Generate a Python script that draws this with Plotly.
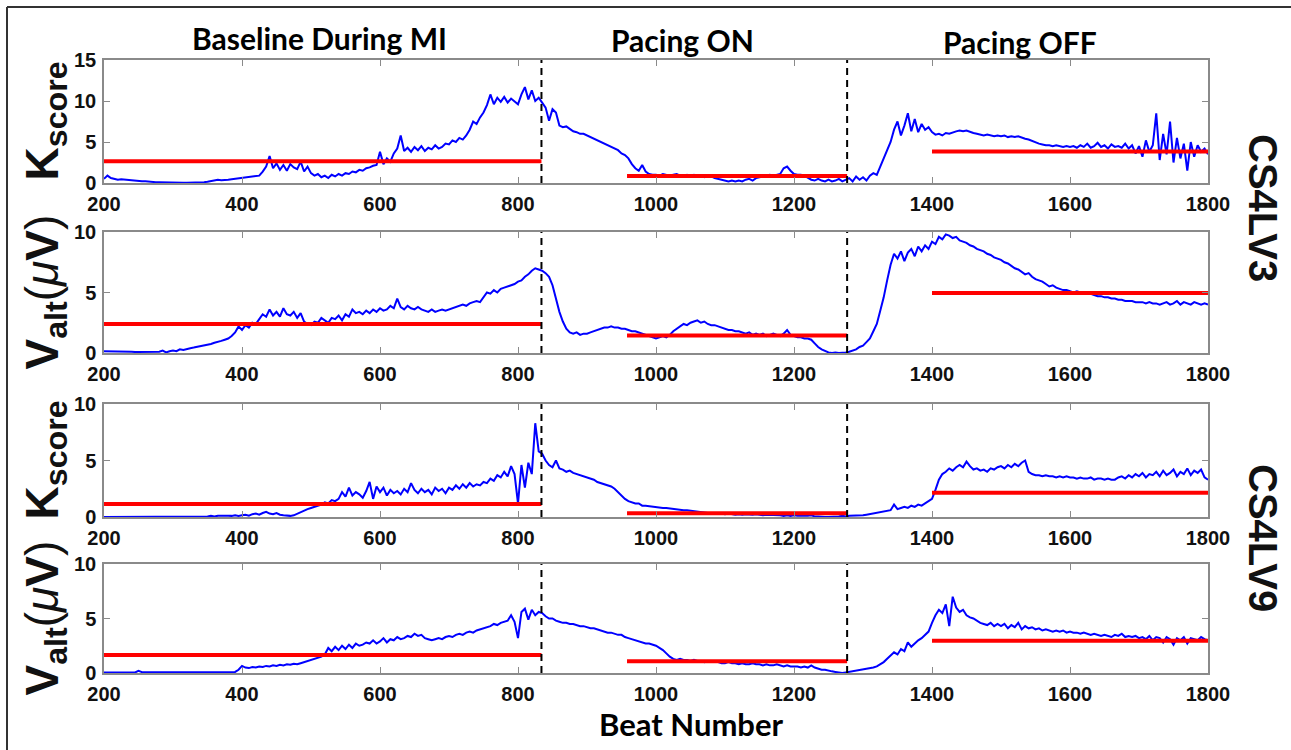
import plotly.graph_objects as go

# ---------------- data ----------------
beat_start, beat_end, beat_step = 200, 1800, 5
beats = list(range(beat_start, beat_end + 1, beat_step))

pacing_on_beat = 834
pacing_off_beat = 1277
phase_bounds = [pacing_on_beat, pacing_off_beat]

# spans of the red mean lines (beat ranges)
red_spans = [(200, 834), (958, 1277), (1400, 1800)]

# CS4LV3 K-score
k1 = [
    0.5, 0.9, 0.6, 0.5, 0.4, 0.45, 0.4, 0.35, 0.3, 0.3, 0.25, 0.2, 0.2, 0.15, 0.15, 0.1, 0.1, 0.08, 0.05, 0.05,
    0.03, 0.02, 0.02, 0.02, 0.03, 0.03, 0.05, 0.05, 0.08, 0.1, 0.15, 0.25, 0.35, 0.4, 0.35, 0.35, 0.4, 0.45, 0.5, 0.55,
    0.6, 0.65, 0.7, 0.75, 0.8, 0.9, 1.4, 2.0, 3.3, 1.8, 2.4, 1.6, 2.2, 1.5, 2.3, 1.9, 1.7, 2.6, 1.4, 2.0,
    1.2, 0.9, 1.1, 0.7, 0.9, 0.6, 1.0, 0.8, 1.1, 0.9, 1.2, 1.1, 1.4, 1.3, 1.6, 1.5, 1.8, 1.9, 2.1, 2.2,
    3.8, 2.3, 3.0, 2.6, 3.6, 4.2, 5.8, 3.9, 4.3, 3.8, 4.4, 4.0, 4.5, 3.9, 4.3, 4.1, 4.6, 4.2, 4.4, 4.8,
    4.7, 5.2, 5.0, 5.5, 5.3, 5.8, 6.5, 7.5, 7.2, 8.0, 8.6, 9.5, 10.8, 9.6, 10.4, 9.9, 10.5, 9.8, 10.3, 10.0,
    9.6, 10.8, 11.7, 10.2, 11.3, 10.0, 10.4, 9.8, 9.2, 7.6, 9.0, 8.6, 7.0, 6.8, 6.9, 6.6, 6.3, 6.2, 6.0, 6.0,
    5.8, 5.6, 5.4, 5.3, 5.0, 4.8, 4.6, 4.4, 4.2, 4.0, 3.6, 3.4, 3.0, 2.3, 1.8, 1.5, 2.2, 1.4, 1.1, 1.0,
    1.0, 0.9, 1.1, 1.0, 0.9, 1.0, 1.1, 0.9, 0.8, 1.0, 0.9, 1.0, 0.8, 0.9, 0.7, 0.9, 0.8, 0.6, 0.5, 0.4,
    0.3, 0.2, 0.3, 0.2, 0.3, 0.2, 0.4, 0.5, 0.3, 0.6, 0.7, 0.8, 0.9, 1.0, 0.9, 1.0, 1.1, 1.8, 2.0, 1.5,
    1.1, 1.0, 1.0, 0.9, 0.6, 0.4, 0.3, 0.5, 0.3, 0.2, 0.4, 0.2, 0.3, 0.5, 0.2, 0.4, 0.6, 0.2, 0.8, 0.4,
    0.7, 0.3, 0.9, 1.2, 1.0, 2.0, 3.0, 4.2, 5.0, 6.5, 7.5, 5.8, 7.0, 8.5, 6.3, 7.8, 6.2, 7.2, 6.5, 6.8,
    6.2, 5.9, 6.0, 5.8, 6.1, 6.0, 6.2, 6.3, 6.4, 6.3, 6.4, 6.2, 6.1, 6.0, 5.9, 5.8, 5.9, 5.8, 5.7, 5.8,
    5.7, 5.8, 5.6, 5.7, 5.6, 5.7, 5.5, 5.4, 5.3, 5.1, 4.9, 4.8, 4.7, 4.6, 4.6, 4.5, 4.6, 4.5, 4.4, 4.5,
    4.4, 4.5, 4.3, 4.6, 4.4, 4.8, 4.3, 4.5, 4.9, 4.4, 4.6, 4.2, 4.7, 4.4, 4.5, 4.3, 4.8, 4.2, 4.6, 3.6,
    4.5, 3.2, 5.2, 3.8, 4.6, 8.5, 2.8, 6.0, 3.5, 7.5, 2.5, 5.5, 3.0, 4.8, 1.5, 5.0, 3.2, 4.6, 3.8, 4.2,
    3.5,
]

# CS4LV3 V_alt (uV)
v1 = [
    0.15, 0.15, 0.14, 0.13, 0.12, 0.12, 0.1, 0.1, 0.1, 0.08, 0.08, 0.07, 0.06, 0.05, 0.05, 0.05, 0.1, 0.2, 0.05, 0.15,
    0.2, 0.15, 0.3, 0.25, 0.35, 0.4, 0.45, 0.5, 0.55, 0.6, 0.7, 0.75, 0.85, 0.9, 1.0, 1.1, 1.2, 1.4, 1.7, 2.2,
    1.9, 2.3, 2.1, 2.5, 2.4, 2.8, 3.2, 3.0, 3.6, 3.1, 3.4, 3.0, 3.7, 3.2, 3.1, 3.4, 2.9, 3.3, 2.6, 2.4,
    2.3, 2.6, 2.5, 2.9, 2.7, 2.5, 2.9, 2.8, 3.1, 2.7, 3.2, 3.0, 3.6, 3.3, 3.4, 3.2, 3.5, 3.3, 3.6, 3.4,
    3.7, 3.5, 3.6, 3.9, 3.7, 4.5, 3.8, 3.6, 3.9, 3.7, 3.6, 3.8, 3.6, 3.5, 3.4, 3.6, 3.4, 3.5, 3.6, 3.5,
    3.6, 3.7, 3.8, 3.9, 4.0, 3.9, 4.1, 4.2, 4.3, 4.2, 4.6, 5.0, 4.9, 5.2, 5.0, 5.3, 5.4, 5.5, 5.6, 5.7,
    5.9, 6.0, 6.3, 6.5, 6.8, 7.0, 6.9, 6.8, 6.6, 6.3, 5.6, 4.4, 3.4, 2.6, 2.0, 1.7, 1.6, 1.7, 1.5, 1.6,
    1.6, 1.7, 1.8, 1.9, 2.0, 2.1, 2.1, 2.2, 2.1, 2.1, 2.0, 2.0, 1.9, 1.8, 1.8, 1.7, 1.6, 1.5, 1.4, 1.3,
    1.2, 1.3, 1.4, 1.3, 1.5, 1.8, 2.0, 2.2, 2.4, 2.3, 2.5, 2.6, 2.7, 2.5, 2.6, 2.4, 2.3, 2.3, 2.2, 2.1,
    2.0, 1.9, 1.9, 1.8, 1.8, 1.7, 1.6, 1.7, 1.5, 1.6, 1.5, 1.6, 1.4, 1.5, 1.6, 1.5, 1.4, 1.6, 1.9, 1.5,
    1.4, 1.3, 1.3, 1.2, 1.2, 1.1, 0.8, 0.5, 0.3, 0.15, 0.05, 0.0, 0.05, 0.0, 0.0, 0.05, 0.1, 0.2, 0.3, 0.5,
    0.6, 0.9, 1.2, 1.8, 2.4, 3.5, 4.6, 6.0, 7.3, 8.2, 7.8, 8.4, 7.6, 8.3, 8.6, 8.0, 8.8, 8.4, 8.9, 8.6,
    9.2, 9.0, 9.6, 9.4, 9.8, 9.7, 9.5, 9.6, 9.3, 9.2, 9.1, 8.9, 8.8, 8.6, 8.5, 8.4, 8.2, 8.1, 7.9, 7.8,
    7.7, 7.5, 7.4, 7.2, 7.0, 6.9, 6.7, 6.5, 6.6, 6.3, 6.1, 6.0, 5.9, 5.7, 5.5, 5.6, 5.4, 5.3, 5.2, 5.2,
    5.1, 5.0, 5.1, 5.0, 5.0, 4.9, 4.9, 4.8, 4.7, 4.7, 4.6, 4.6, 4.5, 4.5, 4.4, 4.4, 4.3, 4.3, 4.3, 4.2,
    4.2, 4.2, 4.1, 4.2, 4.1, 4.1, 4.0, 4.1, 4.2, 4.0, 4.1, 4.3, 4.0, 4.2, 4.1, 4.0, 4.2, 4.1, 4.0, 4.1,
    4.0,
]

# CS4LV9 K-score
k2 = [
    0.0, 0.0, 0.0, 0.0, 0.0, 0.0, 0.0, 0.0, 0.0, 0.0, 0.0, 0.0, 0.0, 0.0, 0.0, 0.0, 0.0, 0.0, 0.0, 0.0,
    0.0, 0.0, 0.0, 0.0, 0.0, 0.0, 0.0, 0.0, 0.0, 0.0, 0.05, 0.1, 0.05, 0.1, 0.08, 0.1, 0.12, 0.1, 0.15, 0.1,
    0.15, 0.2, 0.12, 0.25, 0.3, 0.2, 0.35, 0.45, 0.3, 0.25, 0.35, 0.2, 0.15, 0.1, 0.1, 0.15, 0.3, 0.4, 0.55, 0.7,
    0.8, 0.9, 1.0, 1.1, 1.3, 1.2, 1.5, 1.4, 1.6, 2.2, 1.8, 2.6, 1.9, 2.2, 2.0, 1.7, 2.3, 3.1, 1.6, 2.7,
    2.2, 2.6, 1.9, 2.4, 2.1, 2.3, 2.0, 2.5, 2.2, 3.0, 2.4, 2.1, 2.5, 2.2, 2.4, 2.0, 2.6, 2.3, 2.5, 2.1,
    2.6, 2.4, 2.8, 2.5, 2.9, 2.6, 3.0, 2.7, 2.9, 2.8, 3.1, 3.0, 3.4, 3.2, 3.7, 3.5, 4.0, 3.6, 4.5, 3.8,
    1.2, 4.6, 2.6, 4.8, 3.8, 8.3, 5.8, 5.6, 5.0, 4.6, 4.4, 5.0, 4.3, 4.2, 4.0, 4.1, 3.9, 3.8, 3.7, 3.6,
    3.5, 3.4, 3.3, 3.1, 3.0, 2.9, 2.8, 2.7, 2.5, 2.2, 1.9, 1.6, 1.4, 1.3, 1.2, 1.2, 1.0, 1.0, 0.95, 0.9,
    0.9, 0.85, 0.8, 0.8, 0.75, 0.7, 0.7, 0.65, 0.6, 0.6, 0.55, 0.5, 0.45, 0.4, 0.4, 0.35, 0.35, 0.3, 0.3, 0.3,
    0.25, 0.3, 0.25, 0.2, 0.25, 0.2, 0.25, 0.2, 0.2, 0.25, 0.2, 0.15, 0.2, 0.2, 0.15, 0.2, 0.15, 0.1, 0.15, 0.1,
    0.15, 0.1, 0.1, 0.05, 0.1, 0.15, 0.05, 0.05, 0.0, 0.0, 0.0, 0.0, 0.0, 0.05, 0.1, 0.05, 0.1, 0.1, 0.15, 0.1,
    0.15, 0.2, 0.25, 0.3, 0.35, 0.4, 0.5, 0.5, 0.6, 1.1, 0.7, 0.8, 0.9, 0.8, 1.0, 0.9, 1.1, 1.0, 1.2, 1.4,
    1.6, 2.4, 3.3, 3.8, 4.0, 4.3, 4.1, 4.4, 4.6, 4.4, 4.9, 4.5, 4.2, 4.3, 4.1, 4.2, 4.0, 4.3, 4.2, 4.4,
    4.5, 4.3, 4.6, 4.4, 4.7, 4.5, 4.8, 5.0, 4.0, 3.8, 3.7, 3.7, 3.6, 3.7, 3.6, 3.6, 3.5, 3.6, 3.5, 3.6,
    3.5, 3.5, 3.4, 3.5, 3.4, 3.4, 3.5, 3.3, 3.4, 3.4, 3.3, 3.4, 3.3, 3.3, 3.5, 3.6, 3.4, 3.7, 3.5, 3.8,
    3.6, 3.9, 3.5, 3.8, 3.7, 4.0, 3.6, 4.1, 3.7, 3.9, 4.2, 3.6, 4.0, 3.8, 4.3, 3.7, 4.1, 3.9, 4.2, 3.5,
    3.3,
]

# CS4LV9 V_alt (uV)
v2 = [
    0.05, 0.05, 0.05, 0.05, 0.05, 0.05, 0.05, 0.05, 0.05, 0.05, 0.2, 0.08, 0.06, 0.08, 0.1, 0.08, 0.08, 0.06, 0.06, 0.06,
    0.05, 0.05, 0.05, 0.05, 0.04, 0.04, 0.04, 0.04, 0.04, 0.04, 0.04, 0.04, 0.04, 0.05, 0.05, 0.05, 0.06, 0.08, 0.1, 0.3,
    0.65, 0.5, 0.45, 0.55, 0.5, 0.6, 0.55, 0.65, 0.6, 0.7, 0.65, 0.75, 0.7, 0.8, 0.75, 0.85, 0.8, 0.9, 1.0, 1.1,
    1.2, 1.3, 1.4, 1.5, 1.7, 2.3, 2.0, 2.4, 2.1, 2.5, 2.2, 2.6, 2.3, 2.7, 2.5, 2.6, 2.8, 2.7, 3.0, 2.7,
    2.9, 3.2, 2.8, 3.1, 3.0, 3.3, 3.1, 3.2, 3.4, 3.3, 3.6, 3.4, 3.5, 3.2, 3.1, 3.0, 3.1, 3.2, 3.1, 3.3,
    3.4, 3.3, 3.5, 3.6, 3.5, 3.7, 3.8, 3.7, 3.9, 4.0, 4.1, 4.2, 4.3, 4.5, 4.4, 4.6, 4.7, 4.8, 5.3, 4.7,
    3.2, 5.6, 5.9, 4.9, 5.8, 5.3, 5.6, 5.5, 5.2, 5.0, 5.0, 4.8, 4.7, 4.6, 4.6, 4.5, 4.5, 4.4, 4.3, 4.3,
    4.2, 4.1, 4.1, 4.0, 3.9, 3.8, 3.7, 3.7, 3.6, 3.5, 3.5, 3.3, 3.2, 3.1, 3.0, 2.9, 2.8, 2.7, 2.7, 2.6,
    2.5, 2.3, 2.1, 1.8, 1.5, 1.3, 1.2, 1.3, 1.2, 1.2, 1.1, 1.2, 1.1, 1.1, 1.0, 1.1, 1.0, 1.0, 1.0, 0.9,
    0.9, 1.0, 0.9, 0.9, 0.8, 0.9, 0.8, 0.8, 0.9, 0.8, 0.8, 0.7, 0.8, 0.7, 0.7, 0.8, 0.7, 0.6, 0.7, 0.6,
    0.6, 0.6, 0.5, 0.6, 0.5, 0.7, 0.5, 0.4, 0.3, 0.3, 0.2, 0.15, 0.1, 0.05, 0.0, 0.05, 0.1, 0.15, 0.2, 0.25,
    0.3, 0.35, 0.4, 0.5, 0.6, 0.8, 1.0, 1.3, 1.6, 1.9, 1.7, 2.2, 2.0, 2.8, 2.4, 2.7, 3.0, 3.2, 3.5, 3.8,
    4.6, 5.3, 5.8, 5.5, 6.3, 4.3, 7.0, 6.0, 5.6, 5.8, 5.3, 5.1, 5.0, 4.8, 4.6, 4.5, 4.4, 4.6, 4.3, 4.5,
    4.3, 4.5, 4.1, 4.4, 4.2, 4.6, 4.0, 4.3, 4.1, 4.2, 4.0, 4.1, 3.9, 4.0, 3.9, 3.8, 3.9, 3.8, 3.9, 3.7,
    3.8, 3.7, 3.7, 3.6, 3.7, 3.6, 3.5, 3.6, 3.5, 3.4, 3.5, 3.4, 3.3, 3.5, 3.4, 3.6, 3.3, 3.4, 3.3, 3.4,
    3.2, 3.3, 3.1, 3.4, 3.0, 3.3, 3.2, 2.8, 3.3, 3.1, 2.6, 3.2, 3.0, 3.3, 2.7, 3.2, 3.1, 3.0, 3.3, 3.1,
    3.0,
]

# mean levels (red lines) per phase
k1_means = [2.65, 0.85, 3.85]
v1_means = [2.4, 1.45, 4.95]
k2_means = [1.15, 0.33, 2.15]
v2_means = [1.65, 1.07, 2.95]

y_max = [15, 10, 10, 10]
y_ticks = [[0, 5, 10, 15], [0, 5, 10], [0, 5, 10], [0, 5, 10]]
x_ticks = [200, 400, 600, 800, 1000, 1200, 1400, 1600, 1800]

phase_titles = ["Baseline During MI", "Pacing ON", "Pacing OFF"]
x_title = "Beat Number"
k_label = "<b>K<sub>score</sub></b>"
v_label = "<b>V<sub>alt</sub></b>(<i>μ</i><b>V</b>)"
row_labels = [k_label, v_label, k_label, v_label]
lead_labels = ["CS4LV3", "CS4LV9"]

for s in (k1, v1, k2, v2):
    assert len(s) == len(beats), len(s)

# ---------------- layout geometry (pixels) ----------------
W, H = 1291, 750
x_left, x_right = 104, 1208
panel_px = [(60, 183), (232, 353), (404, 517), (564, 673)]  # top, bottom


def fx(p):
    return p / W


def fy(p):
    return 1 - p / H


tick_font = dict(family="Liberation Sans Narrow, Liberation Sans, Arial", size=20,
                 color="#111111", weight="bold")
title_font = dict(family="Lato, Open Sans, sans-serif", size=30, color="black", weight="bold")

fig = go.Figure()
series = [k1, v1, k2, v2]
means = [k1_means, v1_means, k2_means, v2_means]

for i in range(4):
    suffix = "" if i == 0 else str(i + 1)
    xa, ya = "x" + suffix, "y" + suffix
    fig.add_trace(go.Scatter(x=beats, y=series[i], mode="lines",
                             line=dict(color="#0000ff", width=2),
                             xaxis=xa, yaxis=ya, showlegend=False, hoverinfo="skip"))
    for (x0, x1), lev in zip(red_spans, means[i]):
        fig.add_trace(go.Scatter(x=[x0, x1], y=[lev, lev], mode="lines",
                                 line=dict(color="#ff0000", width=4),
                                 xaxis=xa, yaxis=ya, showlegend=False, hoverinfo="skip"))
    for xb in phase_bounds:
        fig.add_trace(go.Scatter(x=[xb, xb], y=[0, y_max[i]], mode="lines",
                                 line=dict(color="black", width=2, dash="7px,5px"),
                                 xaxis=xa, yaxis=ya, showlegend=False, hoverinfo="skip"))

    top, bot = panel_px[i]
    axis_common = dict(showline=True, linecolor="#8a8a8a", linewidth=1.5, mirror="ticks",
                       ticks="inside", ticklen=6, tickwidth=1, tickcolor="#8a8a8a",
                       showgrid=False, zeroline=False, tickfont=tick_font, automargin=False)
    fig.layout["xaxis" + suffix] = dict(axis_common, domain=[fx(x_left), fx(x_right)],
                                         range=[beat_start, beat_end], tickvals=x_ticks,
                                         anchor=ya, ticklabelstandoff=2)
    fig.layout["yaxis" + suffix] = dict(axis_common, domain=[fy(bot), fy(top)],
                                         range=[0, y_max[i]], tickvals=y_ticks[i],
                                         anchor=xa, ticklabelstandoff=2)

annotations = []
# phase titles
for txt, cx, cy in zip(phase_titles, [319, 682, 1020], [38, 40, 42]):
    annotations.append(dict(text=txt, x=fx(cx), y=fy(cy), xref="paper", yref="paper",
                            showarrow=False, xanchor="center", yanchor="middle", font=title_font))
annotations.append(dict(text=x_title, x=fx(692), y=fy(724), xref="paper", yref="paper",
                        showarrow=False, xanchor="center", yanchor="middle",
                        font=dict(title_font, size=31)))
# row y labels
for i, lab in enumerate(row_labels):
    top, bot = panel_px[i]
    annotations.append(dict(text=lab, x=fx(45), y=fy((top + bot) / 2), xref="paper", yref="paper",
                            showarrow=False, textangle=-90, xanchor="center", yanchor="middle",
                            font=dict(family="Liberation Sans, Arial", size=46, color="#111111")))
# lead labels on the right
for lab, cy in zip(lead_labels, [208, 538]):
    annotations.append(dict(text="<b>" + lab + "</b>", x=fx(1263), y=fy(cy), xref="paper", yref="paper",
                            showarrow=False, textangle=90, xanchor="center", yanchor="middle",
                            font=dict(family="Liberation Sans, Arial", size=40, color="#111111")))

shapes = [
    dict(type="line", xref="paper", yref="paper", x0=fx(7), x1=1, y0=fy(7), y1=fy(7),
         line=dict(color="#333333", width=2)),
    dict(type="line", xref="paper", yref="paper", x0=fx(7), x1=fx(7), y0=0, y1=fy(7),
         line=dict(color="#333333", width=2)),
]

fig.update_layout(width=W, height=H, margin=dict(l=0, r=0, t=0, b=0),
                  paper_bgcolor="white", plot_bgcolor="white",
                  annotations=annotations, shapes=shapes, showlegend=False)

fig.write_html("out.html")
